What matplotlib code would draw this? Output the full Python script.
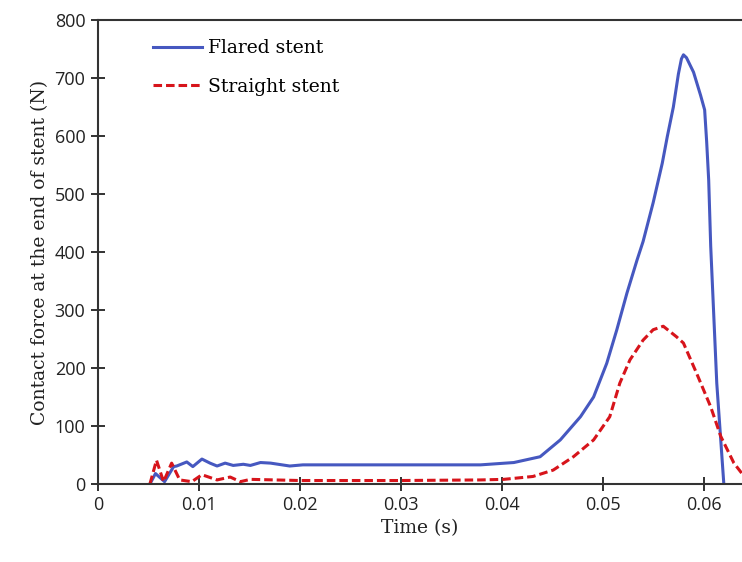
import numpy as np
import matplotlib.pyplot as plt

# flared stent (blue solid)
t_flared = [0.00515, 0.0057, 0.0066, 0.0075, 0.0078, 0.0088, 0.0094, 0.0103, 0.0111,
            0.0118, 0.0126, 0.0134, 0.0144, 0.0151, 0.0161, 0.0171, 0.0190, 0.0203,
            0.0250, 0.0300, 0.0359, 0.0379, 0.0412, 0.0438, 0.0458, 0.0478, 0.0491,
            0.0504, 0.0514, 0.0524, 0.0534, 0.0540, 0.0550, 0.0559, 0.0564, 0.0570,
            0.0575, 0.0578, 0.0580, 0.0583, 0.0590, 0.0597, 0.0601, 0.0603, 0.0605,
            0.0607, 0.0613, 0.0620]
f_flared = [0, 18, 4, 30, 31, 38, 30, 43, 36,
            31, 36, 32, 34, 32, 37, 36, 31, 33,
            33, 33, 33, 33, 37, 47, 76, 116, 150,
            208, 266, 329, 386, 418, 485, 553, 599, 650,
            707, 733, 740, 735, 710, 670, 645, 590, 524,
            410, 174, 0]

# straight stent (red dashed)
t_straight = [0.00515, 0.0058, 0.0065, 0.0073, 0.0081, 0.0093, 0.0103, 0.0118, 0.0131,
              0.0141, 0.0151, 0.0200, 0.0300, 0.0379, 0.0402, 0.0431, 0.0451, 0.0471,
              0.0491, 0.0507, 0.0517, 0.0527, 0.0540, 0.0550, 0.0560, 0.0573, 0.0580,
              0.0593, 0.0607, 0.0617, 0.0630, 0.0638]
f_straight = [0, 41, 4, 36, 7, 4, 16, 7, 12,
              4, 8, 6, 6, 7, 8, 13, 24, 47,
              76, 116, 174, 214, 248, 266, 272, 254, 243,
              191, 133, 82, 36, 18]

fig = plt.figure(figsize=(7.42, 5.62), dpi=100)
ax = fig.add_axes([0.132, 0.1388, 0.868, 0.8256])

ax.plot(t_flared, f_flared, color='#4658C0', lw=2.2, label='Flared stent')
ax.plot(t_straight, f_straight, color='#D7141B', lw=2.2, ls=(0, (2.8, 1.3)), label='Straight stent')

ax.set_xlim(0, 0.0638)
ax.set_ylim(0, 800)
ax.set_xticks(np.arange(0, 0.061, 0.01))
ax.set_xticklabels(['0', '0.01', '0.02', '0.03', '0.04', '0.05', '0.06'])
ax.set_yticks(range(0, 801, 100))

for s in ['left', 'bottom', 'top']:
    ax.spines[s].set_color('#333333')
    ax.spines[s].set_linewidth(1.5)
ax.spines['right'].set_visible(False)
ax.tick_params(direction='inout', length=10, width=1.3, color='#222222',
               labelsize=13, labelcolor='#222222', pad=4)
for lab in ax.get_xticklabels() + ax.get_yticklabels():
    lab.set_family('Open Sans')

ax.set_xlabel('Time (s)', family='DejaVu Serif', fontsize=13.5, color='#222222', labelpad=3)
ax.set_ylabel('Contact force at the end of stent (N)', family='DejaVu Serif',
              fontsize=13.5, color='#222222', labelpad=4)

ax.legend(loc='upper left', bbox_to_anchor=(0.06, 0.995), frameon=False,
          prop={'family': 'DejaVu Serif', 'size': 13.5}, handlelength=2.6,
          handletextpad=0.3, labelspacing=1.1)

fig.savefig('out.png', dpi=100)
